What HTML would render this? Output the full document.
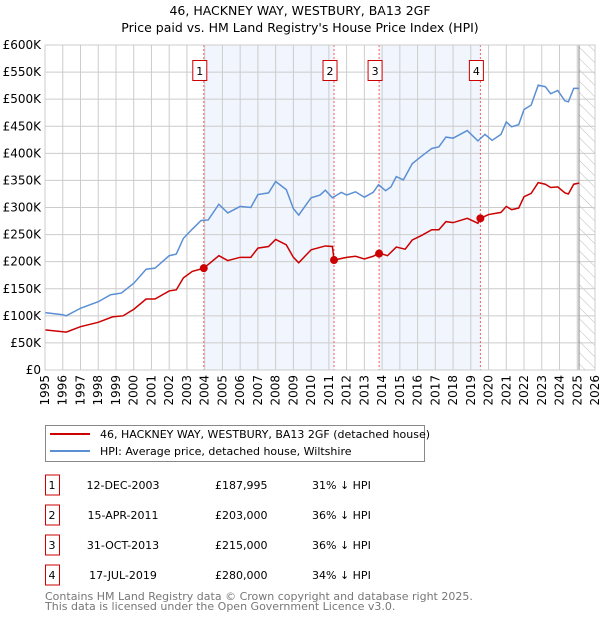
<!DOCTYPE html>
<html><head><meta charset="utf-8"><style>
body{margin:0;background:#fff;font-family:"Liberation Sans","DejaVu Sans",sans-serif;}
svg text{font-family:"DejaVu Sans","Liberation Sans",sans-serif;}
</style></head><body>
<svg width="600" height="620" viewBox="0 0 600 620" xmlns="http://www.w3.org/2000/svg">
<defs><pattern id="hatch" width="8" height="8" patternUnits="userSpaceOnUse" patternTransform="rotate(-45)"><line x1="0" y1="0" x2="0" y2="8" stroke="#bbb" stroke-width="1"/></pattern></defs>
<text x="300" y="15" text-anchor="middle" font-size="12.5">46, HACKNEY WAY, WESTBURY, BA13 2GF</text>
<text x="300" y="32" text-anchor="middle" font-size="12.5">Price paid vs. HM Land Registry's House Price Index (HPI)</text>
<g id="plot"></g>
<g>
<rect x="45.5" y="425.5" width="379" height="36" fill="#fff" stroke="#888"/>
<line x1="50" y1="434" x2="90" y2="434" stroke="#cc0000" stroke-width="2"/>
<text x="100" y="438" font-size="11">46, HACKNEY WAY, WESTBURY, BA13 2GF (detached house)</text>
<line x1="50" y1="451" x2="90" y2="451" stroke="#5b8fd4" stroke-width="2"/>
<text x="100" y="455" font-size="11">HPI: Average price, detached house, Wiltshire</text>
</g>
<g id="table" font-size="11"></g>
<text x="45" y="600" font-size="11" fill="#777">Contains HM Land Registry data © Crown copyright and database right 2025.</text>
<text x="45" y="610" font-size="11" fill="#777">This data is licensed under the Open Government Licence v3.0.</text>
</svg>
<script>
const hpiYears=[1995,1996,1996.2,1997,1998,1998.7,1999.3,2000,2000.7,2001.2,2002,2002.4,2002.8,2003.3,2003.8,2004.2,2004.8,2005.3,2006,2006.6,2007,2007.6,2008,2008.6,2009,2009.3,2010,2010.5,2010.8,2011.2,2011.7,2012,2012.5,2013,2013.5,2013.8,2014.2,2014.5,2014.8,2015.2,2015.7,2016.2,2016.8,2017.2,2017.6,2018,2018.8,2019.4,2019.8,2020.2,2020.7,2021,2021.3,2021.7,2022,2022.4,2022.8,2023.2,2023.5,2023.9,2024.3,2024.5,2024.8,2025.1];
const hpiValues=[106,102,100,114,126,139,142,160,186,188,211,214,243,260,276,277,306,290,302,300,324,327,348,333,298,286,318,323,332,318,328,323,329,319,328,342,331,338,357,351,381,394,409,412,430,428,442,423,435,424,435,458,449,453,481,489,526,523,510,516,497,495,520,520];
const priceYears=[1995,1996.2,1997,1998,1998.8,1999.4,2000,2000.7,2001.2,2002,2002.4,2002.8,2003.3,2003.95,2004.8,2005.3,2006,2006.6,2007,2007.6,2008,2008.6,2009,2009.3,2010,2010.8,2011.2,2011.29,2012,2012.5,2013,2013.5,2013.83,2014.3,2014.8,2015.3,2015.7,2016.2,2016.8,2017.2,2017.6,2018,2018.8,2019.4,2019.54,2020,2020.7,2021,2021.3,2021.7,2022,2022.4,2022.8,2023.2,2023.5,2023.9,2024.3,2024.5,2024.8,2025.1];
const priceValues=[74,70,80,88,98,100,112,131,131,146,148,170,182,188,211,202,208,208,225,228,241,231,208,198,222,229,228,203,208,210,205,210,216,211,227,223,240,248,259,259,274,272,280,271,280,287,291,302,296,299,320,326,346,343,337,338,327,325,343,345];
const saleYears=[2003.95,2011.29,2013.83,2019.54];
const saleValues=[187.995,203,215,280];
const saleLabels=["1","2","3","4"];
const saleDates=["12-DEC-2003","15-APR-2011","31-OCT-2013","17-JUL-2019"];
const salePrices=["£187,995","£203,000","£215,000","£280,000"];
const saleDiffs=["31% ↓ HPI","36% ↓ HPI","36% ↓ HPI","34% ↓ HPI"];
const yTicks=[0,50,100,150,200,250,300,350,400,450,500,550,600];
const xTicks=[];for(let y=1995;y<=2026;y++)xTicks.push(y);
const dataEnd=2025.1;

const NS="http://www.w3.org/2000/svg";
const X0=45,X1=595,Y0=370,Y1=45;
const sx=v=>X0+(v-1995)/(2026-1995)*(X1-X0);
const sy=v=>Y0-v/600*(Y0-Y1);
const plot=document.getElementById('plot');
function mk(tag,attrs,parent){const e=document.createElementNS(NS,tag);for(const k in attrs)e.setAttribute(k,attrs[k]);(parent||plot).appendChild(e);return e;}
[[0,1],[2,3]].forEach(([a,b])=>{
 const r=mk('rect',{x:sx(saleYears[a]),y:Y1,width:sx(saleYears[b])-sx(saleYears[a]),height:Y0-Y1,fill:'#eef3fc',opacity:0.8});
 
 
});
const h=mk('rect',{x:sx(dataEnd),y:Y1,width:X1-sx(dataEnd),height:Y0-Y1,fill:'url(#hatch)'});


yTicks.forEach(t=>{
 const l=mk('line',{x1:X0,x2:X1,y1:sy(t),y2:sy(t),stroke:'#ccc'});
 
 
 const tx=mk('text',{x:X0-4,y:sy(t)+4,'text-anchor':'end','font-size':12});
 tx.textContent=t===0?'£0':'£'+t+'K';
 
 
});
xTicks.forEach(t=>{
 const l=mk('line',{x1:sx(t),x2:sx(t),y1:Y1,y2:Y0,stroke:'#ccc'});
 
 
 const tx=mk('text',{x:0,y:0,'text-anchor':'end','font-size':12,transform:`translate(${sx(t)+4},${Y0+5}) rotate(-90)`});
 tx.textContent=t;
 
 
});
const el=mk('line',{x1:sx(dataEnd),x2:sx(dataEnd),y1:Y1,y2:Y0,stroke:'#888'});


saleYears.forEach((yr,i)=>{
 const l=mk('line',{x1:sx(yr),x2:sx(yr),y1:Y1,y2:Y0,stroke:'#f06060','stroke-dasharray':'2,2'});
 
 
 const r=mk('rect',{x:sx(yr)-11,y:60.5,width:14,height:20,fill:'#fff',stroke:'#cc0000'});
 
 
 const t=mk('text',{x:sx(yr)-4,y:75,'text-anchor':'middle','font-size':11});
 t.textContent=saleLabels[i];
 
 
});
function line(xs,vs,col,name){
 const p=mk('polyline',{points:xs.map((x,i)=>sx(x)+','+sy(vs[i])).join(' '),fill:'none',stroke:col,'stroke-width':1.5});
 
 
}
line(hpiYears,hpiValues,'#5b8fd4','hpi-line');
line(priceYears,priceValues,'#cc0000','price-paid-line');
saleYears.forEach((yr,i)=>{
 const c=mk('circle',{cx:sx(yr),cy:sy(saleValues[i]),r:4,fill:'#cc0000'});
 
 
});
mk('rect',{x:X0,y:Y1,width:X1-X0,height:Y0-Y1,fill:'none',stroke:'#ccc'});
const tb=document.getElementById('table');
saleLabels.forEach((lab,i)=>{
 const cy=485+i*30;
 const r=mk('rect',{x:45.5,y:cy-10,width:14,height:20,fill:'#fff',stroke:'#cc0000'},tb);
 
 
 const cells=[[52,lab,'middle'],[123,saleDates[i],'middle'],[215,salePrices[i],'start'],[312,saleDiffs[i],'start']];
 cells.forEach(([x,s,a],j)=>{
  const t=mk('text',{x:x,y:cy+4,'text-anchor':a},tb);
  t.textContent=s;
  
  
 });
});
</script>
</body></html>
